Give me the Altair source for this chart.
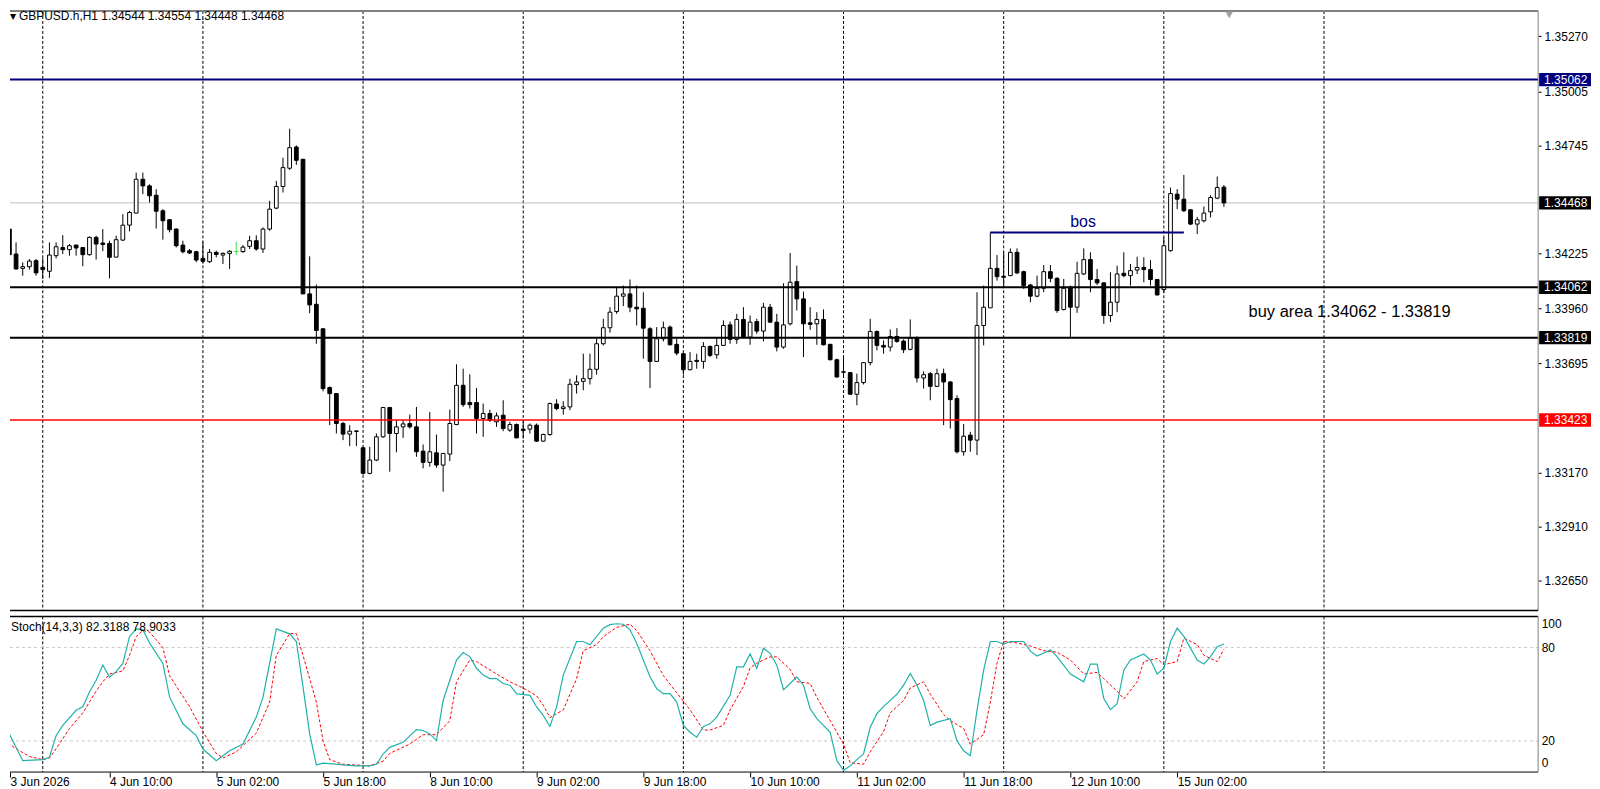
import altair as alt
import pandas as pd
import numpy as np

FONT = "Liberation Sans"

# ---------------- price data (H1 candles, in points = price * 1e5) ----------------
OPEN_PTS = [
 134364,134342,134222,134153,134161,134190,134158,134139,134214,134253,
 134243,134265,134253,134219,134302,134275,134273,134207,134289,134361,
 134419,134582,134550,134505,134430,134387,134342,134265,134238,134233,
 134201,134185,134230,134217,134225,134234,134234,134259,134286,134246,
 134342,134443,134547,134635,134737,134678,134030,133980,133862,133579,
 133550,133406,133355,133370,133289,133166,133230,133342,133483,133358,
 133390,133406,133390,133273,133219,133265,133206,133259,133401,133590,
 133507,133507,133430,133454,133414,133446,133374,133401,133379,133379,
 133398,133321,133353,133500,133478,133486,133593,133609,133622,133667,
 133790,133867,133945,134019,134030,133966,133961,133862,133705,133814,
 133870,133787,133742,133665,133710,133705,133777,133737,133782,133881,
 133811,133907,133822,133897,133851,133966,133894,133774,133886,134089,
 134006,133891,133886,133907,133787,133713,133655,133651,133547,133603,
 133699,133849,133782,133774,133825,133803,133763,133817,133625,133646,
 133585,133646,133606,133526,133270,133350,133326,133878,133963,134153,
 134115,134118,134230,134137,134073,134019,134057,134137,134105,133955,
 134062,133966,134126,134195,134099,134083,133926,133990,134129,134118,
 134145,134157,134147,134099,134051,134238,134510,134486,134435,134366,
 134382,134425,134491,134544]
HIGH_PTS = [
 134374,134345,134278,134182,134198,134198,134201,134278,134278,134313,
 134270,134267,134254,134307,134310,134342,134286,134310,134414,134430,
 134614,134614,134558,134534,134438,134390,134345,134286,134246,134238,
 134281,134246,134238,134230,134241,134281,134265,134310,134312,134350,
 134478,134574,134686,134825,134745,134680,134211,134075,133865,133585,
 133553,133414,133398,133374,133294,133294,133358,133486,133486,133422,
 133422,133449,133486,133305,133462,133353,133262,133473,133691,133670,
 133643,133577,133502,133472,133459,133518,133414,133406,133422,133406,
 133406,133358,133507,133523,133513,133622,133638,133742,133742,133814,
 133910,133966,134062,134070,134099,134070,134038,133870,133870,133897,
 133878,133814,133745,133750,133742,133798,133782,133822,133902,133897,
 133934,133966,133926,133910,133987,133982,133934,134081,134227,134166,
 134041,133966,133942,133955,133790,133718,133721,133654,133646,133702,
 133910,133854,133806,133859,133865,133811,133907,133825,133657,133654,
 133670,133670,133610,133542,133404,133366,134038,134070,134326,134217,
 134230,134249,134249,134142,134078,134118,134169,134169,134110,134102,
 134070,134185,134249,134230,134150,134086,134134,134166,134230,134174,
 134209,134206,134193,134102,134302,134542,134534,134603,134438,134401,
 134451,134505,134595,134554]
LOW_PTS = [
 134326,134150,134147,134118,134147,134118,134102,134107,134201,134222,
 134214,134214,134163,134214,134195,134236,134105,134206,134286,134331,
 134419,134510,134470,134345,134291,134326,134254,134225,134222,134182,
 134177,134179,134206,134174,134150,134217,134227,134246,134238,134227,
 134334,134438,134518,134627,134651,134030,133937,133790,133561,133398,
 133358,133326,133297,133297,133161,133161,133225,133337,133174,133267,
 133337,133382,133246,133190,133198,133193,133078,133225,133398,133486,
 133478,133358,133342,133414,133390,133369,133366,133334,133334,133358,
 133318,133318,133347,133470,133449,133470,133550,133566,133594,133641,
 133782,133843,133934,133971,133942,133878,133718,133577,133702,133801,
 133782,133734,133641,133662,133670,133670,133726,133718,133779,133790,
 133790,133817,133785,133838,133801,133891,133753,133766,133878,133950,
 133726,133857,133785,133782,133710,133627,133625,133545,133494,133594,
 133686,133758,133742,133753,133795,133745,133758,133603,133574,133518,
 133582,133398,133382,133262,133251,133270,133254,133782,133963,134094,
 134062,134115,134126,134054,133990,134014,134038,134086,133939,133950,
 133822,133939,134121,134038,134073,133886,133894,133942,134110,134070,
 134126,134086,134070,134022,134035,134233,134438,134425,134361,134318,
 134374,134398,134486,134448]
CLOSE_PTS = [
 134331,134219,134150,134161,134188,134131,134147,134217,134257,134243,
 134262,134251,134219,134302,134270,134268,134206,134291,134361,134422,
 134582,134550,134502,134428,134382,134339,134262,134233,134227,134193,
 134187,134230,134220,134225,134235,134234,134255,134286,134246,134342,
 134438,134547,134638,134734,134673,134030,133977,133854,133574,133550,
 133406,133355,133369,133368,133166,133230,133342,133483,133358,133390,
 133404,133390,133270,133219,133270,133206,133262,133406,133590,133497,
 133497,133430,133454,133422,133443,133382,133401,133337,133372,133398,
 133321,133353,133502,133478,133486,133595,133606,133622,133667,133790,
 133867,133942,134019,134030,133966,133958,133865,133705,133814,133867,
 133785,133745,133665,133705,133705,133777,133734,133782,133878,133811,
 133907,133822,133894,133851,133966,133894,133774,133881,134086,134006,
 133886,133883,133907,133785,133713,133630,133653,133547,133603,133699,
 133849,133782,133774,133825,133801,133761,133817,133625,133641,133585,
 133646,133606,133521,133270,133345,133326,133878,133966,134153,134113,
 134110,134230,134131,134070,134019,134057,134137,134105,133950,134057,
 133966,134129,134195,134099,134083,133926,133990,134126,134118,134142,
 134157,134147,134099,134025,134262,134513,134486,134430,134366,134387,
 134419,134494,134542,134468]

# ---------------- stochastic (14,3,3) ----------------
K_IDX = [0,1,3,6,7,8,9,11,12,13,14,15,16,17,18,19,20,21,22,24,25,27,29,30,32,33,34,36,38,39,
         41,42,43,44,45,46,47,48,50,51,53,55,56,57,58,60,62,63,64,65,66,68,69,70,71,72,73,74,75,76,
         77,79,80,81,82,83,84,86,87,88,90,91,92,93,94,95,97,98,99,100,101,102,103,104,105,106,107,109,110,111,
         112,113,114,115,116,117,118,119,120,121,122,124,125,126,127,128,129,130,131,132,
         133,134,135,136,137,138,139,140,142,143,144,145,146,147,148,149,150,151,153,154,
         155,157,158,160,162,163,164,165,166,167,168,169,171,172,173,174,175,176,177,179,180,181,182,183]
K_VAL = [21,24.5,7.3,8,9.5,23.4,30,39.7,42,51.5,59,68.8,61,64.5,69.8,87,92,91.5,83,69.8,
         48.3,31,23.4,14.8,7.3,10.5,13.7,18,35.3,48,92,90.4,88.8,83.9,54.7,24.5,4.6,5.7,5.1,4.6,
         4,4,5,11.6,15.9,19.1,27.3,26.7,24.5,20.2,46,72,76.8,74.2,66.7,62.3,60.1,60.1,56.9,55.8,
         50.4,49.3,42,36.4,29.3,41.8,62.3,83.9,83.9,81.8,92.5,94.7,95.3,95,91.4,82.8,61.2,53.7,50.4,50.4,
         45,29.9,25.6,22.4,29.3,31,35.3,49.3,67.6,67.6,75.9,66.7,79.6,76.3,68.7,53,56.9,61.2,55.8,40.7,
         34.3,25.6,7.3,1,4,8,11.6,28.8,37.5,42.2,46.1,50,55.8,63.4,55.8,46.1,29.9,32.1,34.3,20.2,
         13.7,10.5,39.6,65.5,83.9,83.9,82.3,83.9,83.9,77.7,74.6,78.5,74.2,63,58,69.4,69.4,47.2,40.1,43.9,
         65.5,72,75.9,72,63,66.7,83.9,92.5,87.2,72,69.4,74.2,80.6,82.3]
D_IDX = [0,1,2,4,6,7,8,10,12,14,15,16,18,19,20,21,22,24,25,28,30,32,33,35,38,40,41,43,44,45,
         47,48,49,51,53,55,57,58,61,63,65,67,68,70,71,74,76,78,80,81,82,84,86,87,89,90,92,94,95,97,
         99,101,103,105,106,108,109,111,112,113,115,116,118,119,121,122,124,126,127,129,
         130,132,133,135,136,138,139,141,142,144,145,147,148,149,150,152,154,156,158,160,
         162,164,165,167,168,170,171,173,174,176,177,179,180,182,183]
D_VAL = [19,18,15,10,8,9,15,28,38,52,58,63,65,75,87,91,90,80,62,42,26,12,9,13,25,45,75,89,89,75,
         45,20,8,5,4.5,4,7,12,18,24,24,33,58,72,71,63,58,54,49,43,35,40,60,78,82,87,93,95,91,78,
         62,51,40,27,27,30,40,55,67,70,74,74,66,58,57,48,33,18,6,5,
         13,26,38,46,54,58,50,37,33,28,18,24,45,70,84,83,81,78,77,72,
         63,64,60,52,47,58,71,73,69,71,86,82,75,71,78.9]

# ---------------- axis labels, levels, annotations ----------------
TIME_TICK_IDX = [1.1, 16, 32, 48, 64, 80, 96, 112, 128, 144, 160, 176]
TIME_TICK_TEXT = ["3 Jun 2026", "4 Jun 10:00", "5 Jun 02:00", "5 Jun 18:00", "8 Jun 10:00",
                  "9 Jun 02:00", "9 Jun 18:00", "10 Jun 10:00", "11 Jun 02:00", "11 Jun 18:00",
                  "12 Jun 10:00", "15 Jun 02:00"]
GRID_IDX = [6, 30, 54, 78, 102, 126, 150, 174, 198]
PRICE_TICKS = [1.35270, 1.35005, 1.34745, 1.34225, 1.33960, 1.33695, 1.33170, 1.32910, 1.32650]
LEVEL_PRICES = [1.35062, 1.34062, 1.33819, 1.33423]
LEVEL_COLORS = ["#000080", "#000000", "#000000", "#ff0000"]
LEVEL_WIDTHS = [2, 2, 2, 1.5]
BID_PRICE = 1.34468
BOX_PRICES = [1.35062, 1.34468, 1.34062, 1.33819, 1.33423]
BOX_COLORS = ["#000080", "#000000", "#000000", "#000000", "#ff0000"]
BOS_START, BOS_END, BOS_PRICE = 148, 177, 1.34326
BOS_TEXT = ("bos", 161.9, 1.34374)
BUY_TEXT = ("buy area 1.34062 - 1.33819", 186.7, 1.33942)
HEADER = "GBPUSD.h,H1  1.34544 1.34554 1.34448 1.34468"
STOCH_HEADER = "Stoch(14,3,3) 82.3188 78.9033"
CHART_SHIFT_IDX = 183.8

W, HP, HS = 1532, 601, 156
XS = alt.Scale(domain=[1.091, 230.09], nice=False, zero=False)
YS = alt.Scale(domain=[1.32506, 1.35392], nice=False, zero=False)
SS = alt.Scale(domain=[0, 100], nice=False, zero=False)

PRICE_AXIS = alt.Axis(orient="right", values=PRICE_TICKS, format=".5f", tickSize=3, labelPadding=3,
                      domain=False, grid=False, labelFontSize=12, labelFont=FONT, labelColor="#000",
                      tickColor="#000", labelOverlap=False, labelFlush=False)

expr = "''"
for v, t in reversed(list(zip(TIME_TICK_IDX, TIME_TICK_TEXT))):
    expr = f"abs(datum.value - {v}) < 0.5 ? '{t}' : " + expr
TIME_AXIS = alt.Axis(values=TIME_TICK_IDX, labelExpr=expr, labelAlign="left", ticks=True, tickSize=5,
                     tickColor="#000", domain=False, grid=False, labelPadding=-1, labelFontSize=12,
                     labelFont=FONT, labelColor="#000", labelOverlap=False, labelFlush=False,
                     labelBaseline="top")
STOCH_Y_AXIS = alt.Axis(orient="right", values=[0, 20, 80, 100], ticks=False, labelPadding=3, domain=False,
                        grid=False, labelFlush=True, labelFlushOffset=-2.5, labelFontSize=12, labelFont=FONT,
                        labelColor="#000", labelOverlap=False)


def px(f):
    return alt.X(f, type="quantitative", scale=XS, axis=None, title="")


def py(f):
    return alt.Y(f, type="quantitative", scale=YS, axis=PRICE_AXIS, title="")


def sx(f):
    return alt.X(f, type="quantitative", scale=XS, axis=TIME_AXIS, title="")


def sy(f):
    return alt.Y(f, type="quantitative", scale=SS, axis=STOCH_Y_AXIS, title="")


DOJI = "#44dd44"
n = len(OPEN_PTS)
cd = pd.DataFrame({
    "i": np.arange(n),
    "o": np.array(OPEN_PTS) / 1e5,
    "h": np.array(HIGH_PTS) / 1e5,
    "l": np.array(LOW_PTS) / 1e5,
    "c": np.array(CLOSE_PTS) / 1e5,
})
cd["top"] = cd[["o", "c"]].max(axis=1)
cd["bot"] = cd[["o", "c"]].min(axis=1)
cd["fillc"] = np.where(cd.c > cd.o, "#ffffff", np.where(cd.c < cd.o, "#000000", DOJI))
cd["linec"] = np.where(cd.c == cd.o, DOJI, "#000000")
cd["x0"] = cd.i - 0.28
cd["x1"] = cd.i + 0.28

grid_df = pd.DataFrame({"i": GRID_IDX})
one = pd.DataFrame({"k": [0]})

# ---------------- price panel ----------------
vgrid = alt.Chart(grid_df).mark_rule(strokeDash=[3, 2], color="#000000", strokeWidth=1).encode(
    x=px("i"), y=alt.value(0), y2=alt.value(HP))
bid = alt.Chart(pd.DataFrame({"p": [BID_PRICE]})).mark_rule(color="#c0c0c0", strokeWidth=1).encode(
    y=py("p"), x=alt.value(0), x2=alt.value(W))
wicks = alt.Chart(cd).mark_rule(strokeWidth=1, clip=True).encode(
    x=px("i"), y=py("l"), y2=alt.Y2("h"), color=alt.Color("linec:N", scale=None))
bodies = alt.Chart(cd).mark_rect(strokeWidth=1, clip=True).encode(
    x=px("x0"), x2=alt.X2("x1"), y=py("bot"), y2=alt.Y2("top"),
    fill=alt.Fill("fillc:N", scale=None), stroke=alt.Stroke("linec:N", scale=None))
lv_df = pd.DataFrame({"p": LEVEL_PRICES, "col": LEVEL_COLORS, "w": LEVEL_WIDTHS})
levels = alt.Chart(lv_df).mark_rule().encode(
    y=py("p"), x=alt.value(0), x2=alt.value(W),
    color=alt.Color("col:N", scale=None), strokeWidth=alt.StrokeWidth("w:Q", scale=None))
bos = alt.Chart(pd.DataFrame({"a": [BOS_START], "b": [BOS_END], "p": [BOS_PRICE]})).mark_rule(
    color="#000080", strokeWidth=2).encode(x=px("a"), x2=alt.X2("b"), y=py("p"))
ann_df = pd.DataFrame({"t": [BOS_TEXT[0]], "x": [BOS_TEXT[1]], "y": [BOS_TEXT[2]]})
bos_txt = alt.Chart(ann_df).mark_text(font=FONT, fontSize=16, color="#000080", align="center",
                                      baseline="middle").encode(x=px("x"), y=py("y"), text="t:N")
buy_df = pd.DataFrame({"t": [BUY_TEXT[0]], "x": [BUY_TEXT[1]], "y": [BUY_TEXT[2]]})
buy_txt = alt.Chart(buy_df).mark_text(font=FONT, fontSize=16.5, color="#000000", align="left",
                                      baseline="middle").encode(x=px("x"), y=py("y"), text="t:N")
box_df = pd.DataFrame({"p": BOX_PRICES, "col": BOX_COLORS})
box_df["hi"] = box_df.p + 0.00032
box_df["lo"] = box_df.p - 0.00032
box_df["lab"] = [f"{v:.5f}" for v in BOX_PRICES]
boxes = alt.Chart(box_df).mark_rect().encode(
    x=alt.value(W + 1), x2=alt.value(W + 53), y=py("lo"), y2=alt.Y2("hi"),
    fill=alt.Fill("col:N", scale=None))
box_txt = alt.Chart(box_df).mark_text(font=FONT, fontSize=12, color="#ffffff", align="left",
                                      baseline="middle").encode(x=alt.value(W + 6), y=py("p"), text="lab:N")
frame_p = alt.Chart(one).mark_rule(color="#808080", strokeWidth=2).encode(
    x=alt.value(0), x2=alt.value(W), y=alt.value(0))
frame_r = alt.Chart(one).mark_rule(color="#808080", strokeWidth=1).encode(
    x=alt.value(W), y=alt.value(0), y2=alt.value(HP))
frame_b = alt.Chart(one).mark_rule(color="#000000", strokeWidth=1.5).encode(
    x=alt.value(0), x2=alt.value(W), y=alt.value(HP))
hdr_tri = alt.Chart(pd.DataFrame({"t": ["\u25bc"]})).mark_text(font="DejaVu Sans", fontSize=8, align="left",
                                                             baseline="top", color="#000").encode(
    x=alt.value(0), y=alt.value(2), text="t:N")
hdr = alt.Chart(pd.DataFrame({"t": [HEADER]})).mark_text(font=FONT, fontSize=12, align="left",
                                                        baseline="top", color="#000").encode(
    x=alt.value(9), y=alt.value(0), text="t:N")
shift = alt.Chart(pd.DataFrame({"i": [CHART_SHIFT_IDX]})).mark_point(
    shape="triangle-down", filled=True, color="#a0a0a0", size=60, opacity=1).encode(
    x=px("i"), y=alt.value(4))

price = alt.layer(vgrid, bid, wicks, bodies, levels, bos, bos_txt, buy_txt, boxes, box_txt,
                  frame_p, frame_r, frame_b, hdr_tri, hdr, shift).properties(width=W, height=HP)

# ---------------- stochastic panel ----------------
k_df = pd.DataFrame({"i": K_IDX, "v": K_VAL})
d_df = pd.DataFrame({"i": D_IDX, "v": D_VAL})
lvl_df = pd.DataFrame({"v": [80, 20]})
s_grid = alt.Chart(grid_df).mark_rule(strokeDash=[3, 2], color="#000000", strokeWidth=1).encode(
    x=sx("i"), y=alt.value(0), y2=alt.value(HS))
s_lvls = alt.Chart(lvl_df).mark_rule(strokeDash=[3, 3], color="#c8c8c8", strokeWidth=1).encode(
    y=sy("v"), x=alt.value(0), x2=alt.value(W))
k_line = alt.Chart(k_df).mark_line(color="#20b2aa", strokeWidth=1.2, clip=True).encode(x=sx("i"), y=sy("v"))
d_line = alt.Chart(d_df).mark_line(color="#ff0000", strokeWidth=1, strokeDash=[3, 2], clip=True).encode(
    x=sx("i"), y=sy("v"))
s_hdr = alt.Chart(pd.DataFrame({"t": [STOCH_HEADER]})).mark_text(font=FONT, fontSize=12, align="left",
                                                               baseline="middle", color="#000").encode(
    x=alt.value(1), y=alt.value(11), text="t:N")
s_top = alt.Chart(one).mark_rule(color="#000000", strokeWidth=1.5).encode(
    x=alt.value(0), x2=alt.value(W), y=alt.value(0))
s_bot = alt.Chart(one).mark_rule(color="#000000", strokeWidth=1).encode(
    x=alt.value(0), x2=alt.value(W), y=alt.value(HS))
s_right = alt.Chart(one).mark_rule(color="#808080", strokeWidth=1).encode(
    x=alt.value(W), y=alt.value(0), y2=alt.value(HS))

stoch = alt.layer(s_grid, s_lvls, d_line, k_line, s_hdr, s_top, s_bot, s_right).properties(
    width=W, height=HS)

chart = alt.vconcat(price, stoch, spacing=2).properties(
    padding={"left": 0, "top": 0, "right": 0, "bottom": 0}
).configure_view(stroke="transparent")

chart.save("out.html", embed_options={"renderer": "svg", "actions": False})
